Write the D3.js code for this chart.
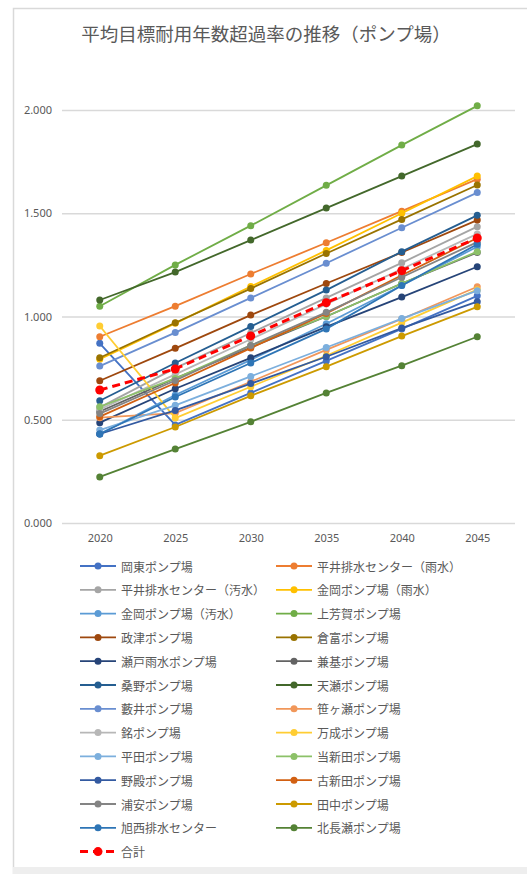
<!DOCTYPE html>
<html>
<head>
<meta charset="utf-8">
<script src="https://cdn.jsdelivr.net/npm/d3@7"></script>
<style>
  html, body { margin: 0; padding: 0; background: #fff; }
  svg { display: block; font-family: "Noto Sans CJK JP", "Noto Sans", sans-serif; }
</style>
</head>
<body>
<svg id="chart" width="527" height="874"></svg>
<script>
// Years on the category axis
const years = ["2020", "2025", "2030", "2035", "2040", "2045"];

// Pump stations in legend order
const stations = [
  "岡東ポンプ場", "平井排水センター（雨水）",
  "平井排水センター（汚水）", "金岡ポンプ場（雨水）",
  "金岡ポンプ場（汚水）", "上芳賀ポンプ場",
  "政津ポンプ場", "倉富ポンプ場",
  "瀬戸雨水ポンプ場", "兼基ポンプ場",
  "桑野ポンプ場", "天瀬ポンプ場",
  "藪井ポンプ場", "笹ヶ瀬ポンプ場",
  "銘ポンプ場", "万成ポンプ場",
  "平田ポンプ場", "当新田ポンプ場",
  "野殿ポンプ場", "古新田ポンプ場",
  "浦安ポンプ場", "田中ポンプ場",
  "旭西排水センター", "北長瀬ポンプ場"
];

// Exceedance ratio per station, one row per station (2020 … 2045)
const ratios = [
  [0.870, 0.475, 0.630, 0.785, 0.940, 1.100], // 岡東
  [0.902, 1.050, 1.206, 1.357, 1.510, 1.665], // 平井（雨水）
  [0.560, 0.750, 0.920, 1.090, 1.260, 1.435], // 平井（汚水）
  [0.793, 0.967, 1.145, 1.320, 1.500, 1.680], // 金岡（雨水）
  [0.431, 0.620, 0.790, 0.965, 1.150, 1.338], // 金岡（汚水）
  [1.050, 1.250, 1.440, 1.635, 1.830, 2.020], // 上芳賀
  [0.689, 0.846, 1.007, 1.160, 1.310, 1.467], // 政津
  [0.800, 0.970, 1.135, 1.305, 1.470, 1.637], // 倉富
  [0.486, 0.650, 0.800, 0.950, 1.094, 1.241], // 瀬戸雨水
  [0.540, 0.700, 0.850, 1.000, 1.160, 1.310], // 兼基
  [0.592, 0.775, 0.951, 1.128, 1.314, 1.490], // 桑野
  [1.080, 1.215, 1.370, 1.525, 1.680, 1.835], // 天瀬
  [0.760, 0.922, 1.090, 1.258, 1.430, 1.600], // 藪井
  [0.510, 0.532, 0.684, 0.838, 0.988, 1.144], // 笹ヶ瀬
  [0.550, 0.720, 0.890, 1.060, 1.230, 1.400], // 銘
  [0.954, 0.508, 0.660, 0.810, 0.970, 1.130], // 万成
  [0.450, 0.570, 0.710, 0.850, 0.990, 1.125], // 平田
  [0.563, 0.700, 0.860, 1.000, 1.160, 1.314], // 当新田
  [0.431, 0.545, 0.675, 0.805, 0.944, 1.072], // 野殿
  [0.515, 0.678, 0.847, 1.015, 1.200, 1.380], // 古新田
  [0.530, 0.690, 0.860, 1.020, 1.190, 1.360], // 浦安
  [0.326, 0.465, 0.616, 0.757, 0.905, 1.047], // 田中
  [0.431, 0.610, 0.775, 0.940, 1.150, 1.350], // 旭西
  [0.223, 0.358, 0.490, 0.630, 0.762, 0.902]  // 北長瀬
];

// Overall total
const totalLabel = "合計";
const totalRatios = [0.644, 0.746, 0.906, 1.067, 1.222, 1.380];

// Value-axis ticks
const yTicks = [0, 0.5, 1.0, 1.5, 2.0];

// Line colours, same order as stations
const colors = [
  "#4472C4", "#ED7D31", "#A5A5A5", "#FFC000", "#5B9BD5", "#70AD47",
  "#9E480E", "#997300", "#264478", "#636363", "#255E91", "#43682B",
  "#698ED0", "#F1975A", "#B7B7B7", "#FFCD33", "#7CAFDD", "#8CC168",
  "#335AA1", "#D26012", "#848484", "#CC9A00", "#2E75B6", "#548235"
];
const totalColor = "#FF0000";

const svg = d3.select("#chart");
const textColor = "#595959";

// Outer chart frame
svg.append("path")
  .attr("d", "M13.5,874 V8.5 H527")
  .attr("fill", "none").attr("stroke", "#d9d9d9").attr("stroke-width", 1.5);
svg.append("rect").attr("x", 13).attr("y", 867).attr("width", 514).attr("height", 7)
  .attr("fill", "#eeeeee");

// Title
svg.append("text")
  .attr("x", 266).attr("y", 33)
  .attr("text-anchor", "middle").attr("dominant-baseline", "central")
  .attr("font-size", 18.5).attr("fill", textColor)
  .text("平均目標耐用年数超過率の推移（ポンプ場）");

const plotLeft = 62, plotRight = 515;
const x = d3.scalePoint().domain(years).range([plotLeft, plotRight]).padding(0.5);
const y = d3.scaleLinear().domain([0, 2]).range([523, 110]);

// Gridlines and value labels
const yAxis = svg.append("g")
  .attr("transform", `translate(${plotLeft},0)`)
  .call(d3.axisLeft(y).tickValues(yTicks).tickFormat(d3.format(".3f"))
    .tickSize(-(plotRight - plotLeft)).tickPadding(10));
yAxis.select(".domain").remove();
yAxis.selectAll(".tick line").attr("stroke", "#d9d9d9").attr("stroke-width", 1.5);
yAxis.selectAll(".tick text").attr("fill", textColor).attr("font-size", 11)
  .attr("font-family", "'Noto Sans', sans-serif");

// Category labels
const xAxis = svg.append("g")
  .attr("transform", `translate(0,${y(0)})`)
  .call(d3.axisBottom(x).tickSize(0).tickPadding(11));
xAxis.select(".domain").remove();
xAxis.selectAll(".tick text").attr("fill", textColor).attr("font-size", 11)
  .attr("font-family", "'Noto Sans', sans-serif");

const line = d3.line().x((d, i) => x(years[i])).y(d => y(d));

// Station series
const series = svg.append("g");
stations.forEach((name, s) => {
  const g = series.append("g");
  g.append("path").datum(ratios[s])
    .attr("d", line).attr("fill", "none")
    .attr("stroke", colors[s]).attr("stroke-width", 1.8);
  g.selectAll("circle").data(ratios[s]).join("circle")
    .attr("cx", (d, i) => x(years[i])).attr("cy", d => y(d))
    .attr("r", 3.5).attr("fill", colors[s]);
});

// Total series, dashed on top
const tg = svg.append("g");
tg.append("path").datum(totalRatios)
  .attr("d", line).attr("fill", "none")
  .attr("stroke", totalColor).attr("stroke-width", 3)
  .attr("stroke-dasharray", "8,5");
tg.selectAll("circle").data(totalRatios).join("circle")
  .attr("cx", (d, i) => x(years[i])).attr("cy", d => y(d))
  .attr("r", 4.5).attr("fill", totalColor);

// Legend: two columns, row-major
const legendItems = stations.map((n, i) => ({ name: n, color: colors[i], total: false }))
  .concat([{ name: totalLabel, color: totalColor, total: true }]);
const colX = [80, 276];
const rowY0 = 566, rowStep = 23.8;
const legend = svg.append("g");
legendItems.forEach((it, i) => {
  const cx = colX[i % 2], cy = rowY0 + Math.floor(i / 2) * rowStep;
  const g = legend.append("g").attr("transform", `translate(${cx},${cy})`);
  g.append("line").attr("x1", 0).attr("x2", 36).attr("y1", 0).attr("y2", 0)
    .attr("stroke", it.color).attr("stroke-width", it.total ? 3 : 1.8)
    .attr("stroke-dasharray", it.total ? "8,5" : null);
  g.append("circle").attr("cx", 18).attr("cy", 0).attr("r", it.total ? 4.5 : 3.5)
    .attr("fill", it.color);
  g.append("text").attr("x", 41).attr("y", 0).attr("dominant-baseline", "central")
    .attr("font-size", 12).attr("fill", textColor).text(it.name);
});
</script>
</body>
</html>
